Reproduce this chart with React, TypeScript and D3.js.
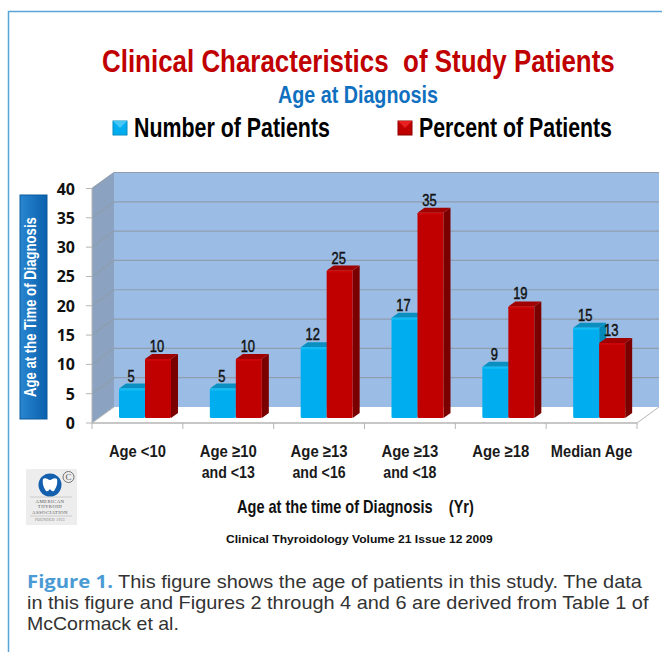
import React, { useLayoutEffect, useRef } from "react";
import * as d3 from "d3";

const categories = ["Age <10", "Age ≥10|and <13", "Age ≥13|and <16", "Age ≥13|and <18", "Age ≥18", "Median Age"];
const numberOfPatients = [5, 5, 12, 17, 8.7, 15.3];
const percentOfPatients = [10, 10, 25, 34.8, 18.9, 12.7];
const yTicks = [0, 5, 10, 15, 20, 25, 30, 35, 40];
const captionFirst = "This figure shows the age of patients in this study. The data";
const captionLines = [
  "in this figure and Figures 2 through 4 and 6 are derived from Table 1 of",
  "McCormack et al.",
];

const sans = "'Liberation Sans',sans-serif";
const DY = 16, bx = 7, by = 5, barW = 26;
const x = d3.scaleBand<number>().domain(d3.range(6)).range([92, 637]);
const y = d3.scaleLinear().domain([0, 40]).range([423, 188.5]);
const floorY = 418;
const unit = 5.9;

// Text squeezed horizontally to the width it has in the reference (the reference face is a narrow grotesque).
function Fit({ x: tx, y: ty, width, size, bold = true, fill = "#111", rotate = 0, family = sans, weight, children }: any) {
  const ref = useRef<SVGTextElement>(null);
  useLayoutEffect(() => {
    const el = ref.current!;
    const w = el.getComputedTextLength();
    const s = width / w;
    const r = rotate ? ` rotate(${rotate})` : "";
    d3.select(el).attr("transform", `translate(${tx},${ty})${r} scale(${s},1)`);
  }, [tx, ty, width]);
  return (
    <text ref={ref} transform={`translate(${tx},${ty})`} fontFamily={family} fontWeight={bold ? 700 : 400} fontSize={size} fill={fill} stroke={weight ? fill : "none"} strokeWidth={weight || 0} xmlSpace="preserve">
      {children}
    </text>
  );
}

function Bar({ xl, v, front, side, top, edge }: { xl: number; v: number; front: string; side: string; top: string; edge: string }) {
  const h = v * unit;
  const yt = floorY - h;
  return (
    <g>
      <path d={`M${xl + barW},${yt}l${bx},${-by}V${floorY - by}l${-bx},${by}Z`} fill={side} />
      <path d={`M${xl},${yt}l${bx},${-by}h${barW}l${-bx},${by}Z`} fill={top} />
      <rect x={xl} y={yt} width={barW} height={h} rx={1.5} fill={front} />
      <rect x={xl} y={yt} width={barW} height={2} rx={1} fill={edge} />
    </g>
  );
}

export default function App() {
  return (
    <svg width={662} height={652} viewBox="0 0 662 652" style={{ position: "absolute", left: 0, top: 0, background: "#fff" }}>
      <defs>
        <linearGradient id="lab" x1="0" x2="1" y1="0" y2="0">
          <stop offset="0" stopColor="#2a86d0" />
          <stop offset="1" stopColor="#0a60ac" />
        </linearGradient>
      </defs>
      <path d="M662,11.5H8.5V652" fill="none" stroke="#5aa5d8" strokeWidth={1.5} />

      <Fit x={102} y={72} width={513} size={31} fill="#c00000">Clinical Characteristics  of Study Patients</Fit>
      <Fit x={278} y={103} width={160} size={23} fill="#0f70c0">Age at Diagnosis</Fit>

      <rect x={113} y={121} width={14} height={14} fill="#00aeef" stroke="#0a8cc0" />
      <path d="M113,121l7,7l7,-7Z" fill="#45c8f5" />
      <Fit x={134} y={137} width={196} size={27} fill="#000">Number of Patients</Fit>
      <rect x={398} y={121} width={14} height={14} fill="#c00000" stroke="#8a0000" />
      <path d="M398,121l7,7l7,-7Z" fill="#e82020" />
      <Fit x={419} y={137} width={193} size={27} fill="#000">Percent of Patients</Fit>

      <rect x={20} y={195} width={27} height={224} fill="url(#lab)" stroke="#0a5a9c" />
      <Fit x={36} y={397} width={180} size={16} fill="#fff" rotate={-90}>Age at the Time of Diagnosis</Fit>

      {/* walls */}
      <polygon points={`92,${y(0)} 114,${y(0) - DY} 114,${y(40) - DY} 92,${y(40)}`} fill="#8ba3c0" />
      <rect x={114} y={y(40) - DY} width={545} height={y(0) - y(40)} fill="#9bbde5" />
      <polygon points={`92,${y(0)} 114,${y(0) - DY} 659,${y(0) - DY} ${637},${y(0)}`} fill="#fff" />
      <path d={`M92,${y(0)}L114,${y(0) - DY}M637,${y(0)}L659,${y(0) - DY}`} stroke="#b5b5b5" fill="none" />
      {yTicks.map((t) => (
        <g key={t}>
          {t > 0 && <path d={`M92,${y(t)}L114,${y(t) - DY}H659`} fill="none" stroke="#8f9dae" strokeWidth={1.2} />}
          <line x1={86} x2={92} y1={y(t)} y2={y(t)} stroke="#b5b5b5" />
          <text x={75} y={y(t) + 6} textAnchor="end" fontFamily="'Open Sans',sans-serif" fontWeight={700} fontSize={16} fill="#111">{t}</text>
        </g>
      ))}
      <line x1={92} x2={92} y1={y(40)} y2={y(0)} stroke="#b5b5b5" />
      <line x1={92} x2={637} y1={y(0)} y2={y(0)} stroke="#b5b5b5" strokeWidth={1.3} />
      {d3.range(7).map((i) => {
        const tx = 92 + i * x.step();
        return <line key={i} x1={tx} x2={tx} y1={y(0)} y2={y(0) + 6} stroke="#b5b5b5" />;
      })}

      {/* bars */}
      {categories.map((c, i) => {
        const x0 = (x(i) as number) + 27;
        const n = numberOfPatients[i], p = percentOfPatients[i];
        const ln = String(Math.round(n)), lp = String(Math.round(p));
        return (
          <g key={c}>
            <Bar xl={x0} v={n} front="#00aeef" side="#0088b8" top="#0a8fc0" edge="#12bdf5" />
            <Bar xl={x0 + barW} v={p} front="#c00000" side="#7a0000" top="#a00000" edge="#cc0505" />
            <Fit x={x0 + 12 - ln.length * 3.6} y={floorY - n * unit - 7} width={ln.length * 7.2} size={16} bold={false} weight={0.45}>{ln}</Fit>
            <Fit x={x0 + barW + 12 - lp.length * 3.6} y={floorY - p * unit - 7} width={lp.length * 7.2} size={16} bold={false} weight={0.45}>{lp}</Fit>
          </g>
        );
      })}

      {categories.map((c, i) => {
        const cx = (x(i) as number) + x.bandwidth() / 2;
        return c.split("|").map((l, j) => {
          const w = l.length * (l.startsWith("and") ? 7.6 : 8.15);
          return <Fit key={l + i} x={cx - w / 2} y={457 + j * 20.5} width={w} size={17} fill="#1a1a1a">{l}</Fit>;
        });
      })}

      <Fit x={237} y={513} width={237} size={18}>Age at the time of Diagnosis    (Yr)</Fit>
      <Fit x={226} y={543} width={267} size={11.5}>Clinical Thyroidology Volume 21 Issue 12 2009</Fit>

      {/* logo */}
      <rect x={26} y={469} width={51} height={56} fill="#ededed" />
      <circle cx={50} cy={485} r={11.5} fill="#1460ae" />
      <path d="M43,479c3,-2 5,1 7,1c2,0 4,-3 7,-1c1,5 -1,9 -3,12c-2,1 -3,-1 -4,-2c-1,1 -2,3 -4,2c-2,-3 -4,-7 -3,-12Z" fill="#fff" />
      <circle cx={68.5} cy={477} r={5.5} fill="none" stroke="#555" strokeWidth={0.8} />
      <text x={68.5} y={480} textAnchor="middle" fontFamily="'Liberation Serif',serif" fontSize={9} fill="#555">C</text>
      <line x1={30} x2={72} y1={497} y2={497} stroke="#aaa" strokeWidth={0.5} />
      {["AMERICAN", "THYROID", "ASSOCIATION"].map((l, i) => (
        <text key={l} x={50} y={503 + i * 5.3} textAnchor="middle" fontFamily="'Liberation Serif',serif" fontSize={4.8} letterSpacing={0.4} fill="#555">{l}</text>
      ))}
      <line x1={30} x2={72} y1={516} y2={516} stroke="#aaa" strokeWidth={0.5} />
      <text x={50} y={520.5} textAnchor="middle" fontFamily="'Liberation Serif',serif" fontSize={3.6} letterSpacing={0.4} fill="#777">FOUNDED 1923</text>

      {/* caption */}
      <Fit x={27} y={588} width={86} size={18} fill="#4a9ad4" family="'Open Sans',sans-serif">Figure 1.</Fit>
      <Fit x={118} y={588} width={524} size={18} bold={false} fill="#333">{captionFirst}</Fit>
      <Fit x={27} y={609} width={622} size={18} bold={false} fill="#333">{captionLines[0]}</Fit>
      <Fit x={27} y={630} width={152} size={18} bold={false} fill="#333">{captionLines[1]}</Fit>
    </svg>
  );
}
